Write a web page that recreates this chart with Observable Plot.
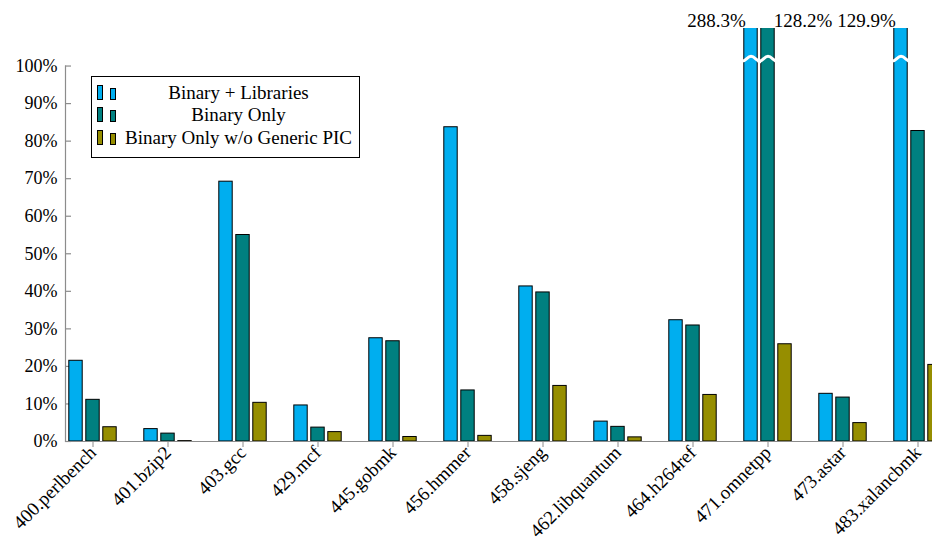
<!DOCTYPE html>
<html>
<head>
<meta charset="utf-8">
<script src="https://cdn.jsdelivr.net/npm/d3@7"></script>
<script src="https://cdn.jsdelivr.net/npm/@observablehq/plot@0.6"></script>
<style>
  body { margin: 0; background: #fff; }
  #wrap { position: relative; width: 932px; height: 538px; font-family: "Liberation Serif", "DejaVu Serif", serif; }
  #chart svg { font-family: "Liberation Serif", serif !important; }
  #chart svg text { font-family: "Liberation Serif", serif !important; }
  #legend { position: absolute; left: 91px; top: 76px; width: 267px; height: 76px; border: 1px solid #000; background: #fff; padding-top: 4px; box-sizing: content-box; }
  .row { display: flex; align-items: flex-end; height: 22.5px; font-size: 19px; line-height: 22px; }
  .icons { width: 26px; display: flex; align-items: flex-end; padding-left: 5px; box-sizing: border-box; margin-bottom: 4px; }
  .ic1 { width: 4px; height: 13px; border: 1px solid #000; }
  .ic2 { width: 4px; height: 10px; border: 1px solid #000; margin-left: 7px; }
  .lbl { flex: 1; text-align: center; white-space: nowrap; }
</style>
</head>
<body>
<div id="wrap">
  <div id="chart"></div>
  <div id="legend"></div>
</div>
<script>
const benchmarks = ["400.perlbench","401.bzip2","403.gcc","429.mcf","445.gobmk","456.hmmer","458.sjeng","462.libquantum","464.h264ref","471.omnetpp","473.astar","483.xalancbmk"];
const seriesNames = ["Binary + Libraries","Binary Only","Binary Only w/o Generic PIC"];
const seriesColors = ["#00aeef","#008080","#968e00"];
const binaryLibs = [21.5, 3.3, 69.2, 9.6, 27.5, 83.7, 41.3, 5.3, 32.3, 288.3, 12.7, 129.9];
const binaryOnly = [11.1, 2.1, 55.0, 3.7, 26.7, 13.6, 39.7, 3.9, 30.9, 128.2, 11.7, 82.7];
const binaryNoPIC = [3.8, 0.1, 10.3, 2.5, 1.2, 1.5, 14.8, 1.1, 12.4, 25.9, 4.9, 20.4];
const yTicks = [0,10,20,30,40,50,60,70,80,90,100];
const yMax = 110;

const seriesValues = [binaryLibs, binaryOnly, binaryNoPIC];
const rows = [];
seriesValues.forEach((vals, s) => vals.forEach((v, i) => rows.push({bench: benchmarks[i], series: s, value: v})));
const broken = rows.filter(d => d.value > yMax);

// layout
const W = 932, H = 538, mL = 65, mT = 28, mB = 97;
const step = 75, firstCenter = 92;
const xRange = [firstCenter - step/2, firstCenter - step/2 + step*benchmarks.length];
const barW = 13.4, gap = 17;
const offs = [-gap, 0, gap];
const gray = "#8c8c8c";
const serif = "Liberation Serif";

const wave = {
  draw(ctx) {
    ctx.moveTo(-10, 1.5);
    ctx.bezierCurveTo(-6, 3.5, -4, -3, 0, -3);
    ctx.bezierCurveTo(4, -3, 6, 2.5, 10, 2.5);
  }
};

const barMarks = seriesValues.map((vals, s) => {
  const center = step/2 + offs[s];
  return Plot.barY(rows.filter(d => d.series === s), {
    x: "bench", y: "value",
    fill: seriesColors[s], stroke: "#000", strokeWidth: 1,
    insetLeft: center - barW/2, insetRight: step - center - barW/2,
    clip: true
  });
});

const waveMarks = [0, 1, 2].map(s => Plot.dot(broken.filter(d => d.series === s), {
  x: "bench", y: 101.8, dx: offs[s], symbol: wave, stroke: "#fff", strokeWidth: 3, fill: "none", r: 5
}));

const chart = Plot.plot({
  width: W, height: H,
  marginLeft: mL, marginTop: mT, marginBottom: mB, marginRight: 0,
  style: {fontFamily: serif, fontSize: "19px", color: "#000", overflow: "visible"},
  x: {type: "band", domain: benchmarks, range: xRange, padding: 0, label: null},
  y: {domain: [0, yMax], label: null},
  marks: [
    Plot.ruleY([0], {stroke: gray, strokeWidth: 1.2}),
    Plot.frame({anchor: "left", stroke: gray, strokeWidth: 1.2, insetTop: (yMax - 100) * (H - mB - mT) / yMax}),
    Plot.tickY(yTicks, {y: d => d, stroke: gray, strokeWidth: 1.2, insetRight: W - mL - 6}),
    Plot.axisY({ticks: yTicks, tickSize: 0, tickPadding: 8, tickFormat: d => d + "%", fontSize: 18, fontFamily: serif}),
    Plot.axisX({tickSize: 6, stroke: gray, tickRotate: -45, tickPadding: 2, fontSize: 19, fontFamily: serif}),
    ...barMarks,
    ...waveMarks,
    Plot.text(broken.filter(d => d.series === 0), {
      x: "bench", frameAnchor: "top", dy: -15, dx: offs[0] - barW/2 + 1.5,
      text: d => d.value.toFixed(1) + "%", textAnchor: "end", fontSize: 19, fontFamily: serif
    }),
    Plot.text(broken.filter(d => d.series === 1), {
      x: "bench", frameAnchor: "top", dy: -15, dx: offs[1] + barW/2 - 1,
      text: d => d.value.toFixed(1) + "%", textAnchor: "start", fontSize: 19, fontFamily: serif
    })
  ]
});
document.getElementById("chart").appendChild(chart);

const lg = document.getElementById("legend");
seriesNames.forEach((name, s) => {
  const r = document.createElement("div");
  r.className = "row";
  r.innerHTML = `<div class="icons"><div class="ic1" style="background:${seriesColors[s]}"></div><div class="ic2" style="background:${seriesColors[s]}"></div></div><div class="lbl">${name}</div>`;
  lg.appendChild(r);
});
</script>
</body>
</html>
